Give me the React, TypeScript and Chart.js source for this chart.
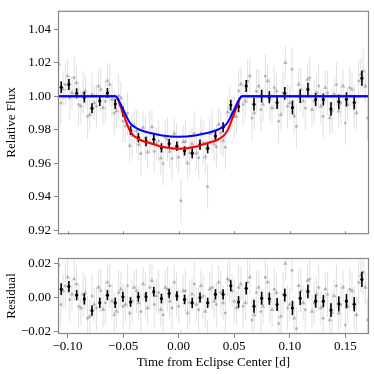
import React, { useEffect, useRef } from 'react';
import { Chart, registerables } from 'chart.js';
Chart.register(...registerables);

// ---------- axes ----------
const X_MIN = -0.1086;
const X_MAX = 0.1713;
const X_TICKS = [-0.1, -0.05, 0, 0.05, 0.1, 0.15];
const FLUX_MIN = 0.9177;
const FLUX_MAX = 1.0509;
const FLUX_TICKS = [0.92, 0.94, 0.96, 0.98, 1.0, 1.02, 1.04];
const RES_MIN = -0.0212;
const RES_MAX = 0.0232;
const RES_TICKS = [-0.02, 0, 0.02];

// ---------- binned data (black) ----------
const BIN_X = [-0.1057, -0.0988, -0.0918, -0.0849, -0.0780, -0.0710, -0.0641, -0.0571, -0.0502, -0.0433, -0.0363, -0.0294, -0.0224, -0.0155, -0.0086, -0.0016, 0.0053, 0.0122, 0.0192, 0.0261, 0.0331, 0.0400, 0.0469, 0.0539, 0.0608, 0.0678, 0.0747, 0.0816, 0.0886, 0.0955, 0.1024, 0.1094, 0.1163, 0.1233, 0.1302, 0.1371, 0.1441, 0.1510, 0.1580, 0.1649];
const BIN_FLUX = [1.0053, 1.0070, 1.0017, 0.9994, 0.9928, 0.9972, 1.0019, 0.9953, 0.9909, 0.9796, 0.9753, 0.9730, 0.9743, 0.9692, 0.9717, 0.9702, 0.9674, 0.9660, 0.9711, 0.9689, 0.9762, 0.9815, 0.9947, 0.9938, 1.0061, 0.9952, 1.0000, 0.9994, 0.9962, 1.0017, 0.9932, 1.0000, 1.0040, 0.9980, 0.9980, 0.9923, 0.9966, 0.9981, 0.9962, 1.0107];
const BIN_RES = [0.0050, 0.0065, 0.0015, -0.0008, -0.0075, -0.0030, 0.0015, -0.0030, 0.0005, -0.0025, 0.0005, 0.0005, 0.0035, -0.0005, 0.0025, 0.0010, -0.0010, -0.0030, 0.0000, -0.0030, 0.0020, 0.0020, 0.0070, -0.0025, 0.0055, -0.0050, -0.0003, -0.0006, -0.0040, 0.0015, -0.0060, -0.0003, 0.0037, -0.0020, -0.0020, -0.0072, -0.0036, -0.0020, -0.0038, 0.0107];
const BIN_ERR = [0.0034, 0.0033, 0.0030, 0.0032, 0.0030, 0.0030, 0.0030, 0.0030, 0.0030, 0.0028, 0.0028, 0.0028, 0.0028, 0.0028, 0.0028, 0.0028, 0.0028, 0.0030, 0.0030, 0.0030, 0.0030, 0.0030, 0.0032, 0.0034, 0.0036, 0.0038, 0.0038, 0.0036, 0.0038, 0.0038, 0.0042, 0.0040, 0.0040, 0.0038, 0.0036, 0.0040, 0.0044, 0.0042, 0.0042, 0.0045];

// ---------- unbinned data (gray triangles) ----------
const TRI_X = [-0.108, -0.104, -0.100, -0.096, -0.092, -0.088, -0.084, -0.080, -0.076, -0.072, -0.068, -0.064, -0.060, -0.056, -0.052, -0.048, -0.044, -0.040, -0.036, -0.032, -0.028, -0.024, -0.020, -0.016, -0.012, -0.008, -0.004, 0.000, 0.004, 0.008, 0.012, 0.016, 0.020, 0.024, 0.028, 0.032, 0.036, 0.040, 0.044, 0.048, 0.052, 0.056, 0.060, 0.064, 0.068, 0.072, 0.076, 0.080, 0.084, 0.088, 0.092, 0.096, 0.100, 0.104, 0.108, 0.112, 0.116, 0.120, 0.124, 0.128, 0.132, 0.136, 0.140, 0.144, 0.148, 0.152, 0.156, 0.160, 0.164, 0.168];
const TRI_FLUX = [1.019, 1.004, 1.012, 1.002, 1.008, 0.994, 1.003, 0.989, 0.996, 1.006,
  0.993, 1.009, 0.998, 0.9912, 0.9988, 0.9822, 0.9705, 0.9823, 0.9712, 0.9813,
  0.9667, 0.9817, 0.9717, 0.9630, 0.9755, 0.9670, 0.9777, 0.9636, 0.9727, 0.9600,
  0.9715, 0.9660, 0.9777, 0.9637, 0.9777, 0.9713, 0.9832, 0.9733, 0.9905, 0.9902,
  0.9878, 1.0072, 0.997, 1.012, 0.990, 1.006, 0.995, 1.009, 0.993, 1.003,
  0.989, 1.020, 0.996, 0.988, 1.007, 0.997, 1.010, 0.992, 1.002, 0.994,
  1.005, 0.987, 1.001, 0.991, 1.006, 0.995, 1.004, 0.990, 1.013, 1.006];
const TRI_RES = [0.019, 0.004, 0.012, 0.002, 0.008, -0.006, 0.003, -0.011, -0.004, 0.006,
  -0.007, 0.009, -0.002, -0.008, 0.005, -0.004, -0.009, 0.006, -0.003, 0.008,
  -0.006, 0.010, 0.001, -0.007, 0.006, -0.002, 0.009, -0.005, 0.004, -0.009,
  0.002, -0.004, 0.007, -0.008, 0.005, -0.002, 0.009, -0.003, 0.011, 0.004,
  -0.006, 0.008, -0.003, 0.012, -0.010, 0.006, -0.005, 0.009, -0.007, 0.003,
  -0.011, 0.020, -0.004, -0.012, 0.007, -0.003, 0.010, -0.008, 0.002, -0.006,
  0.005, -0.013, 0.001, -0.009, 0.006, -0.005, 0.004, -0.010, 0.013, 0.006];
const TRI_ERR = 0.010;

// ---------- unbinned data (gray circles) ----------
const CIRC_X = [-0.106, -0.102, -0.098, -0.094, -0.090, -0.086, -0.082, -0.078, -0.074, -0.070, -0.066, -0.062, -0.058, -0.054, -0.050, -0.046, -0.042, -0.038, -0.034, -0.030, -0.026, -0.022, -0.018, -0.014, -0.010, -0.006, -0.002, 0.002, 0.006, 0.010, 0.014, 0.018, 0.022, 0.026, 0.030, 0.034, 0.038, 0.042, 0.046, 0.050, 0.054, 0.058, 0.062, 0.066, 0.070, 0.074, 0.078, 0.082, 0.086, 0.090, 0.094, 0.098, 0.102, 0.106, 0.110, 0.114, 0.118, 0.122, 0.126, 0.130, 0.134, 0.138, 0.142, 0.146, 0.150, 0.154, 0.158, 0.162, 0.166, 0.170];
const CIRC_FLUX = [0.996, 1.007, 0.999, 1.011, 0.995, 1.002, 0.988, 1.001, 0.994, 1.004,
  0.997, 1.007, 0.990, 1.0002, 0.9850, 0.9898, 0.9765, 0.9792, 0.9658, 0.9750,
  0.9781, 0.9672, 0.9733, 0.9598, 0.9742, 0.9629, 0.9706, 0.9376, 0.9729, 0.9662,
  0.9778, 0.9633, 0.9722, 0.9461, 0.9790, 0.9698, 0.9782, 0.9695, 0.9928, 0.9880,
  1.0032, 0.995, 1.009, 0.987, 1.003, 0.992, 1.012, 0.998, 1.005, 0.985,
  1.002, 0.994, 1.016, 0.982, 1.004, 0.993, 1.011, 0.997, 1.006, 0.988,
  1.002, 0.991, 1.007, 0.996, 0.984, 1.005, 0.994, 1.009, 1.015, 0.987];
const CIRC_RES = [-0.004, 0.007, -0.001, 0.011, -0.005, 0.002, -0.012, 0.001, -0.006, 0.004,
  -0.003, 0.007, -0.010, 0.003, -0.005, 0.007, -0.002, 0.004, -0.008, 0.002,
  0.006, -0.004, 0.003, -0.010, 0.005, -0.006, 0.002, -0.031, 0.004, -0.003,
  0.008, -0.007, 0.001, -0.026, 0.006, -0.004, 0.003, -0.009, 0.010, -0.002,
  0.006, -0.005, 0.009, -0.013, 0.003, -0.008, 0.012, -0.002, 0.005, -0.015,
  0.002, -0.006, 0.016, -0.018, 0.004, -0.007, 0.011, -0.003, 0.006, -0.012,
  0.002, -0.009, 0.007, -0.004, -0.016, 0.005, -0.006, 0.009, 0.015, -0.013];
const CIRC_ERR = 0.013;

// ---------- transit models ----------
const MODEL_X = [-0.1086, -0.0570, -0.0550, -0.0530, -0.0505, -0.0485, -0.0465, -0.0440, -0.0410, -0.0380, -0.0350, -0.0300, -0.0260, -0.0150, 0.0000, 0.0150, 0.0260, 0.0300, 0.0350, 0.0380, 0.0410, 0.0440, 0.0465, 0.0485, 0.0505, 0.0530, 0.0550, 0.0570, 0.1713];
const MODEL_RED = [1.0, 1.0, 0.9985, 0.9950, 0.9905, 0.9870, 0.9835, 0.9795, 0.9768, 0.9752, 0.9740, 0.9728, 0.9721, 0.9698, 0.9686, 0.9698, 0.9721, 0.9728, 0.9740, 0.9752, 0.9768, 0.9795, 0.9835, 0.9870, 0.9905, 0.9950, 0.9985, 1.0, 1.0];
const MODEL_BLUE = [1.0, 1.0, 0.9988, 0.9962, 0.9928, 0.9900, 0.9872, 0.9843, 0.9822, 0.9810, 0.9800, 0.9788, 0.9781, 0.9766, 0.9758, 0.9766, 0.9781, 0.9788, 0.9800, 0.9810, 0.9822, 0.9843, 0.9872, 0.9900, 0.9928, 0.9962, 0.9988, 1.0, 1.0];
const RED_BAND = 0.0008;

// ---------- styles ----------
const FONT = "'Liberation Serif', 'Times New Roman', serif";
const FRAME = '#858585';
const GRAY_PT = 'rgba(110,110,110,0.45)';
const GRAY_ERR = 'rgba(140,140,140,0.27)';

const pts = (xs: number[], ys: number[]) => xs.map((x, i) => ({ x, y: ys[i] }));
const fmt = (v: any) => {
  const s = Number(v).toFixed(2);
  return s === '-0.00' ? '0.00' : s.replace('-', '\u2212');
};

const errorBarPlugin = {
  id: 'errbars',
  beforeDatasetDraw(chart: any, args: any) {
    const ds: any = chart.data.datasets[args.index];
    if (ds.errs === undefined) return;
    const meta = args.meta;
    const yScale = chart.scales[meta.yAxisID];
    const { ctx, chartArea: a } = chart;
    ctx.save();
    ctx.beginPath();
    ctx.rect(a.left, a.top, a.right - a.left, a.bottom - a.top);
    ctx.clip();
    ctx.strokeStyle = ds.errColor;
    ctx.lineWidth = ds.errWidth;
    meta.data.forEach((el: any, i: number) => {
      const p = ds.data[i];
      const e = Array.isArray(ds.errs) ? ds.errs[i] : ds.errs;
      const y1 = yScale.getPixelForValue(p.y - e);
      const y2 = yScale.getPixelForValue(p.y + e);
      ctx.beginPath();
      ctx.moveTo(el.x, y1);
      ctx.lineTo(el.x, y2);
      ctx.stroke();
    });
    ctx.restore();
  },
};

const framePlugin = {
  id: 'frame',
  afterDraw(chart: any, _args: any, opts: any) {
    const { ctx, chartArea: a } = chart;
    ctx.save();
    ctx.strokeStyle = FRAME;
    ctx.lineWidth = 1.2;
    ctx.strokeRect(a.left + 0.5, a.top + 0.5, a.right - a.left - 1, a.bottom - a.top - 1);
    if (opts && opts.innerXTicks) {
      const xs = chart.scales.x;
      ctx.lineWidth = 1;
      X_TICKS.forEach((v) => {
        const px = Math.round(xs.getPixelForValue(v)) + 0.5;
        ctx.beginPath();
        ctx.moveTo(px, a.bottom);
        ctx.lineTo(px, a.bottom - 3);
        ctx.stroke();
      });
    }
    ctx.restore();
  },
};

function makeDatasets(top: boolean) {
  const binY = top ? BIN_FLUX : BIN_RES;
  const triY = top ? TRI_FLUX : TRI_RES;
  const circY = top ? CIRC_FLUX : CIRC_RES;
  const list: any[] = [];
  if (top) {
    list.push({
      type: 'line', data: pts(MODEL_X, MODEL_BLUE), borderColor: '#0000ff', borderWidth: 2,
      pointRadius: 0, cubicInterpolationMode: 'monotone', fill: false, order: 0, clip: 0,
    });
    list.push({
      type: 'line', data: pts(MODEL_X, MODEL_RED), borderColor: '#ff0000', borderWidth: 2,
      pointRadius: 0, cubicInterpolationMode: 'monotone', fill: false, order: 1, clip: 0,
    });
    list.push({
      type: 'line', data: pts(MODEL_X, MODEL_RED.map((v) => v + RED_BAND)), borderColor: 'transparent', borderWidth: 0,
      pointRadius: 0, cubicInterpolationMode: 'monotone', backgroundColor: 'rgba(255,0,0,0.22)', fill: '+1', order: 2, clip: 0,
    });
    list.push({
      type: 'line', data: pts(MODEL_X, MODEL_RED.map((v) => v - RED_BAND)), borderColor: 'transparent', borderWidth: 0,
      pointRadius: 0, cubicInterpolationMode: 'monotone', fill: false, order: 2, clip: 0,
    });
  }
  list.push({
    type: 'scatter', data: pts(BIN_X, binY), pointRadius: 1.6, pointStyle: 'circle',
    backgroundColor: '#000', borderColor: '#000', borderWidth: 0,
    errs: BIN_ERR, errColor: '#000', errWidth: 1.6, order: 3, clip: 0,
  });
  list.push({
    type: 'scatter', data: pts(CIRC_X, circY), pointRadius: 1.5, pointStyle: 'circle',
    backgroundColor: GRAY_PT, borderWidth: 0,
    errs: CIRC_ERR, errColor: GRAY_ERR, errWidth: 1, order: 4, clip: 0,
  });
  list.push({
    type: 'scatter', data: pts(TRI_X, triY), pointRadius: 2.6, pointStyle: 'triangle',
    backgroundColor: GRAY_PT, borderWidth: 0,
    errs: TRI_ERR, errColor: GRAY_ERR, errWidth: 1, order: 5, clip: 0,
  });
  return list;
}

function yAxis(min: number, max: number, ticks: number[], title: string) {
  return {
    type: 'linear', min, max,
    afterBuildTicks: (s: any) => { s.ticks = ticks.map((v) => ({ value: v })); },
    afterFit: (s: any) => { s.width = 58; },
    ticks: { font: { family: FONT, size: 13 }, color: '#000', padding: 3, callback: fmt },
    grid: { drawOnChartArea: false, drawTicks: true, tickLength: 4, color: FRAME },
    border: { display: false },
    title: { display: true, text: title, font: { family: FONT, size: 13 }, color: '#000', padding: { top: 4, bottom: 0 } },
  };
}

export default function App() {
  const topRef = useRef<HTMLCanvasElement>(null);
  const botRef = useRef<HTMLCanvasElement>(null);

  useEffect(() => {
    const common = {
      responsive: false,
      animation: false,
      events: [],
      plugins: { legend: { display: false }, tooltip: { enabled: false } },
    };
    const top = new Chart(topRef.current as HTMLCanvasElement, {
      type: 'scatter',
      data: { datasets: makeDatasets(true) },
      plugins: [errorBarPlugin, framePlugin],
      options: {
        ...common,
        plugins: { ...common.plugins, frame: { innerXTicks: true } },
        layout: { padding: { left: 0, right: 5, top: 5, bottom: 0 } },
        scales: {
          x: {
            type: 'linear', min: X_MIN, max: X_MAX,
            afterBuildTicks: (s: any) => { s.ticks = X_TICKS.map((v) => ({ value: v })); },
            afterFit: (s: any) => { s.height = 5; },
            ticks: { display: false },
            grid: { display: false },
            border: { display: false },
          },
          y: yAxis(FLUX_MIN, FLUX_MAX, FLUX_TICKS, 'Relative Flux'),
        },
      } as any,
    } as any);
    const bot = new Chart(botRef.current as HTMLCanvasElement, {
      type: 'scatter',
      data: { datasets: makeDatasets(false) },
      plugins: [errorBarPlugin, framePlugin],
      options: {
        ...common,
        layout: { padding: { left: 0, right: 5, top: 13, bottom: 0 } },
        scales: {
          x: {
            type: 'linear', min: X_MIN, max: X_MAX,
            afterBuildTicks: (s: any) => { s.ticks = X_TICKS.map((v) => ({ value: v })); },
            afterFit: (s: any) => { s.height = 40; },
            ticks: { font: { family: FONT, size: 13 }, color: '#000', padding: 1, maxRotation: 0, autoSkip: false, callback: fmt },
            grid: { drawOnChartArea: false, drawTicks: true, tickLength: 4, color: FRAME },
            border: { display: false },
            title: { display: true, text: 'Time from Eclipse Center [d]', font: { family: FONT, size: 13 }, color: '#000', padding: { top: 0, bottom: 4 } },
          },
          y: yAxis(RES_MIN, RES_MAX, RES_TICKS, 'Residual'),
        },
      } as any,
    } as any);
    return () => { top.destroy(); bot.destroy(); };
  }, []);

  return (
    <div style={{ position: 'fixed', left: 0, top: 0, width: 374, height: 374, background: '#fff' }}>
      <canvas ref={topRef} width={374} height={245} style={{ position: 'absolute', left: 0, top: 0, width: 374, height: 245 }} />
      <canvas ref={botRef} width={374} height={129} style={{ position: 'absolute', left: 0, top: 245, width: 374, height: 129 }} />
    </div>
  );
}
